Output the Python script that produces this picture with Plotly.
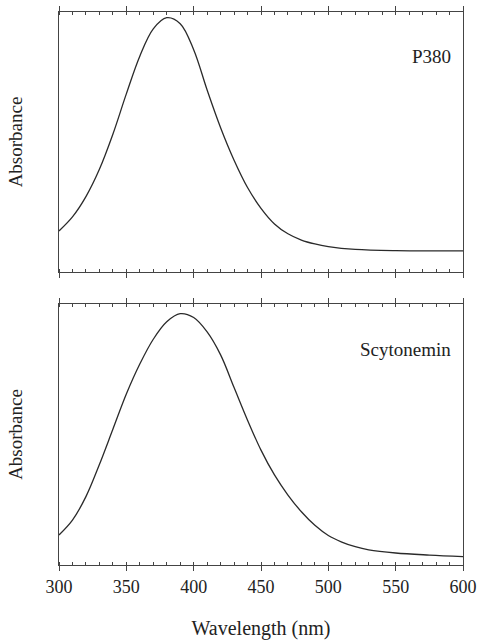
import plotly.graph_objects as go

# Wavelength (nm) and normalized absorbance
p380_wl = [300, 310, 320, 330, 340, 350, 360, 370, 380, 390, 400, 410, 420,
           430, 440, 450, 460, 470, 480, 490, 500, 520, 550, 600]
p380_abs = [0.158, 0.212, 0.29, 0.395, 0.53, 0.685, 0.83, 0.935, 0.978, 0.955,
            0.855, 0.70, 0.555, 0.43, 0.325, 0.245, 0.185, 0.147, 0.123, 0.108,
            0.098, 0.087, 0.082, 0.081]

scy_wl = [300, 310, 320, 330, 340, 350, 360, 370, 380, 390, 400, 410, 420, 430,
          440, 450, 460, 470, 480, 490, 500, 510, 520, 530, 550, 575, 600]
scy_abs = [0.115, 0.172, 0.262, 0.385, 0.52, 0.655, 0.77, 0.865, 0.932, 0.963,
           0.948, 0.893, 0.805, 0.68, 0.555, 0.44, 0.345, 0.268, 0.204, 0.152,
           0.113, 0.088, 0.07, 0.058, 0.046, 0.038, 0.032]

panel_labels = ["P380", "Scytonemin"]
x_ticks = [300, 350, 400, 450, 500, 550, 600]

W, H = 480, 640
ML, MR, MT, MB = 59, 17, 12, 75
plot_h = H - MT - MB
top_dom = [1 - 260 / plot_h, 1]
bot_dom = [0, 1 - 292 / plot_h]

font_family = "Liberation Serif, Times New Roman, serif"
line_color = "#2a2a2a"
frame_color = "#444444"
text_color = "#222222"

fig = go.Figure()
fig.add_trace(go.Scatter(x=p380_wl, y=p380_abs, mode="lines",
                         line=dict(color=line_color, width=1.3, shape="spline", smoothing=1.0),
                         xaxis="x", yaxis="y", showlegend=False))
fig.add_trace(go.Scatter(x=scy_wl, y=scy_abs, mode="lines",
                         line=dict(color=line_color, width=1.3, shape="spline", smoothing=1.0),
                         xaxis="x2", yaxis="y2", showlegend=False))

common_x = dict(range=[300, 600], tickvals=x_ticks, ticks="outside", ticklen=5, tickwidth=1,
                tickcolor=frame_color, showline=True, linecolor=frame_color, linewidth=1,
                mirror="ticks", showgrid=False, zeroline=False, automargin=False,
                minor=dict(dtick=10, ticks="inside", ticklen=3, tickcolor=frame_color, showgrid=False),
                tickfont=dict(family=font_family, size=18, color=text_color))
common_y = dict(range=[0, 1], showticklabels=False, ticks="", showline=True, linecolor=frame_color,
                linewidth=1, mirror=True, showgrid=False, zeroline=False, automargin=False,
                title=dict(text="Absorbance", font=dict(family=font_family, size=19, color=text_color),
                           standoff=30))

fig.update_layout(
    width=W, height=H,
    margin=dict(l=ML, r=MR, t=MT, b=MB),
    paper_bgcolor="white", plot_bgcolor="white",
    xaxis=dict(common_x, anchor="y", showticklabels=False),
    yaxis=dict(common_y, domain=top_dom, anchor="x"),
    xaxis2=dict(common_x, anchor="y2", matches="x",
                title=dict(text="Wavelength (nm)", font=dict(family=font_family, size=20, color=text_color),
                           standoff=30)),
    yaxis2=dict(common_y, domain=bot_dom, anchor="x2"),
    annotations=[
        dict(text=panel_labels[0], xref="x domain", yref="y domain", x=0.975, y=0.83,
             xanchor="right", yanchor="middle", showarrow=False,
             font=dict(family=font_family, size=19, color=text_color)),
        dict(text=panel_labels[1], xref="x2 domain", yref="y2 domain", x=0.975, y=0.825,
             xanchor="right", yanchor="middle", showarrow=False,
             font=dict(family=font_family, size=19, color=text_color)),
    ],
)

fig.write_html("out.html")
